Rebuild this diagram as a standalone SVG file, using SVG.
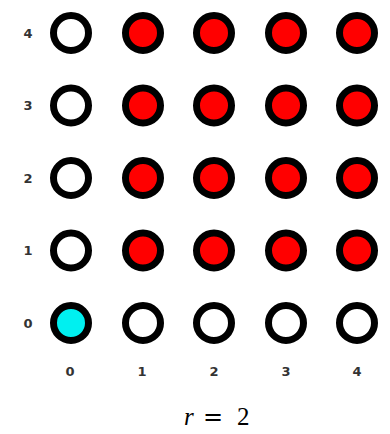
<svg xmlns="http://www.w3.org/2000/svg" width="390" height="434" viewBox="0 0 390 434">
<style>
.n{stroke:#000;stroke-width:7;fill:#fff}
.r{fill:#f00}
.c{fill:#00f0f0}
.l{font-family:"DejaVu Sans","Liberation Sans",sans-serif;font-size:13px;font-weight:bold;fill:#333;text-anchor:middle}
.m{font-family:"Liberation Serif",serif;font-size:25px;fill:#000}
</style>
<rect width="390" height="434" fill="#fff"/>
<g id="yaxis">
<text class="l" x="28" y="38">4</text>
<text class="l" x="28" y="110">3</text>
<text class="l" x="28" y="183">2</text>
<text class="l" x="28" y="255">1</text>
<text class="l" x="28" y="328">0</text>
</g>
<g id="xaxis">
<text class="l" x="70" y="376">0</text>
<text class="l" x="142" y="376">1</text>
<text class="l" x="214" y="376">2</text>
<text class="l" x="286" y="376">3</text>
<text class="l" x="357" y="376">4</text>
</g>
<g id="row4">
<circle id="n04" class="n" cx="71" cy="33" r="17.5"/>
<circle id="n14" class="n r" cx="143" cy="33" r="17.5"/>
<circle id="n24" class="n r" cx="214" cy="33" r="17.5"/>
<circle id="n34" class="n r" cx="286" cy="33" r="17.5"/>
<circle id="n44" class="n r" cx="357" cy="33" r="17.5"/>
</g>
<g id="row3">
<circle id="n03" class="n" cx="71" cy="105.5" r="17.5"/>
<circle id="n13" class="n r" cx="143" cy="105.5" r="17.5"/>
<circle id="n23" class="n r" cx="214" cy="105.5" r="17.5"/>
<circle id="n33" class="n r" cx="286" cy="105.5" r="17.5"/>
<circle id="n43" class="n r" cx="357" cy="105.5" r="17.5"/>
</g>
<g id="row2">
<circle id="n02" class="n" cx="71" cy="178" r="17.5"/>
<circle id="n12" class="n r" cx="143" cy="178" r="17.5"/>
<circle id="n22" class="n r" cx="214" cy="178" r="17.5"/>
<circle id="n32" class="n r" cx="286" cy="178" r="17.5"/>
<circle id="n42" class="n r" cx="357" cy="178" r="17.5"/>
</g>
<g id="row1">
<circle id="n01" class="n" cx="71" cy="250.5" r="17.5"/>
<circle id="n11" class="n r" cx="143" cy="250.5" r="17.5"/>
<circle id="n21" class="n r" cx="214" cy="250.5" r="17.5"/>
<circle id="n31" class="n r" cx="286" cy="250.5" r="17.5"/>
<circle id="n41" class="n r" cx="357" cy="250.5" r="17.5"/>
</g>
<g id="row0">
<circle id="n00" class="n c" cx="71" cy="323" r="17.5"/>
<circle id="n10" class="n" cx="143" cy="323" r="17.5"/>
<circle id="n20" class="n" cx="214" cy="323" r="17.5"/>
<circle id="n30" class="n" cx="286" cy="323" r="17.5"/>
<circle id="n40" class="n" cx="357" cy="323" r="17.5"/>
</g>
<g id="connectors"/>
<text class="m" x="184" y="425"><tspan font-style="italic">r</tspan><tspan x="203" font-family="DejaVu Sans, sans-serif" font-size="24">=</tspan><tspan x="237">2</tspan></text>
</svg>
